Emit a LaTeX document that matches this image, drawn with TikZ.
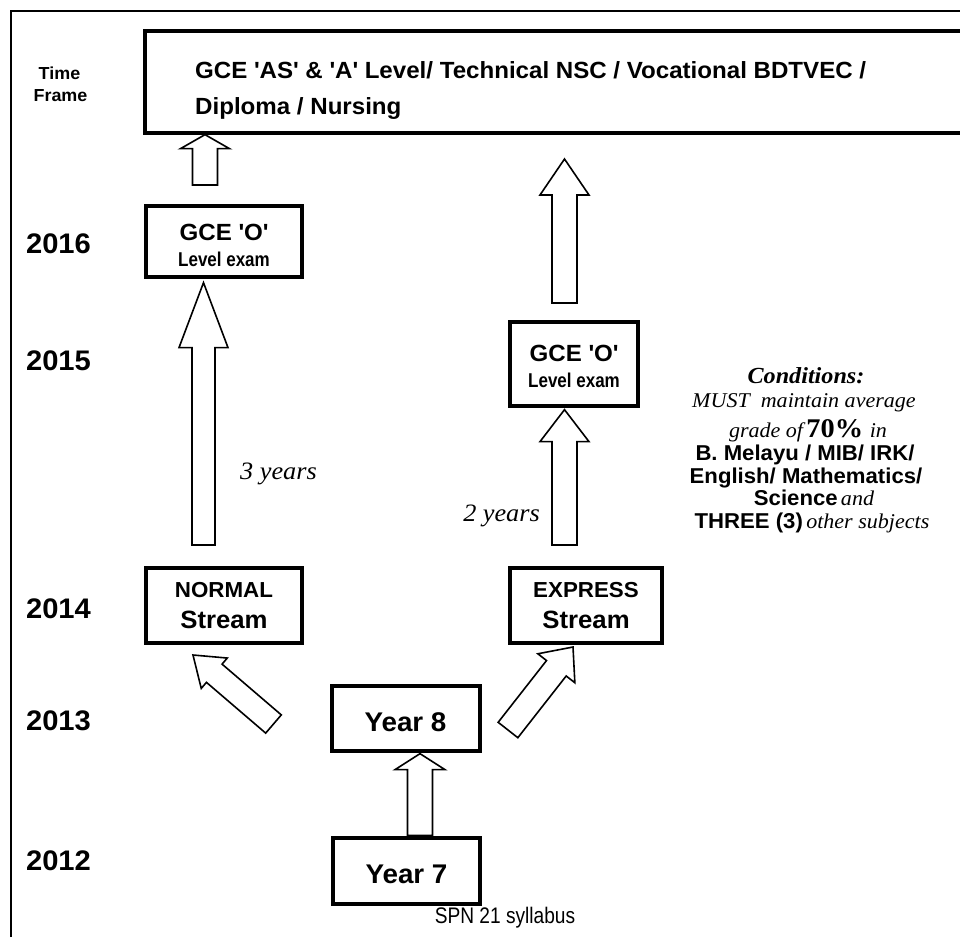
\documentclass[tikz,border=0pt]{standalone}
\usepackage{fontspec}
\usetikzlibrary{calc}
\newfontfamily\wsf{Liberation Sans}[FakeStretch=1.03]
\newfontfamily\nsf{Liberation Sans}[FakeStretch=0.85]
\newfontfamily\wrm{Liberation Serif}[FakeStretch=1.05]
\newcommand\sq{\textquotesingle}
\newcommand\fs[1]{\fontsize{#1}{#1}\selectfont}
% block arrow: #1 tail, #2 tip, #3 shaft half width, #4 head half width, #5 head length
\newcommand\blockarrow[5]{%
  \coordinate (ba-c) at ($(#2)!#5!(#1)$);
  \draw[blk] ($(#1)!#3!90:(#2)$) -- ($(ba-c)!#3!90:(#2)$) -- ($(ba-c)!#4!90:(#2)$) -- (#2)
    -- ($(ba-c)!#4!-90:(#2)$) -- ($(ba-c)!#3!-90:(#2)$) -- ($(#1)!#3!-90:(#2)$) -- cycle;}
\begin{document}
\begin{tikzpicture}[x=1pt,y=-1pt,
  boxn/.style={draw, line width=3.3pt, inner sep=0pt, fill=white},
  blk/.style={draw, fill=white, line width=1.6pt, line join=miter},
  sfb/.style={inner sep=0pt, anchor=base, font=\wsf\bfseries\fs{#1}},
  nfb/.style={inner sep=0pt, anchor=base, font=\nsf\bfseries\fs{#1}},
  yr/.style={inner sep=0pt, anchor=base, font=\wsf\bfseries\fs{28.3}},
  itl/.style={inner sep=0pt, anchor=base, font=\wrm\itshape\fs{#1}}]
\useasboundingbox (0,0) rectangle (960,937);
\clip (0,0) rectangle (960,937);
% frame
\draw[line width=2.5pt] (11,937) -- (11,11) -- (960,11);
% time frame
\node[sfb=17.4] (tf1) at (59.5,79) {Time};
\node[sfb=17.4] (tf2) at (60.5,101) {Frame};
% years
\node[yr] (y2016) at (58.5,253) {2016};
\node[yr] (y2015) at (58.5,370) {2015};
\node[yr] (y2014) at (58.5,618) {2014};
\node[yr] (y2013) at (58.5,730) {2013};
\node[yr] (y2012) at (58.5,870) {2012};
% top box
\node[boxn, minimum width=830pt, minimum height=102pt] (top) at (560,82) {};
\node[sfb=23.4, anchor=base west] (topl1) at (195,78) {GCE \sq AS\sq\ \& \sq A\sq\ Level/ Technical NSC / Vocational BDTVEC /};
\node[sfb=23.4, anchor=base west] (topl2) at (195,114) {Diploma / Nursing};
% left GCE O
\node[boxn, minimum width=156pt, minimum height=71pt] (gl) at (224,241.5) {};
\node[sfb=23.4] (gl1) at (224,240) {GCE \sq O\sq};
\node[nfb=20] (gl2) at (224,266) {Level exam};
% right GCE O
\node[boxn, minimum width=128pt, minimum height=84pt] (gr) at (574,364) {};
\node[sfb=23.4] (gr1) at (574,361) {GCE \sq O\sq};
\node[nfb=20] (gr2) at (574,387) {Level exam};
% NORMAL
\node[boxn, minimum width=156pt, minimum height=75pt] (nrm) at (224,605.5) {};
\node[sfb=21.7] (nrm1) at (224,597) {NORMAL};
\node[sfb=25] (nrm2) at (224,628.5) {Stream};
% EXPRESS
\node[boxn, minimum width=152pt, minimum height=75pt] (exp) at (586,605.5) {};
\node[sfb=21.7] (exp1) at (586,597) {EXPRESS};
\node[sfb=25] (exp2) at (586,628.5) {Stream};
% Year 8 / Year 7
\node[boxn, minimum width=148pt, minimum height=65pt] (y8) at (406,718.5) {};
\node[sfb=27] (y8t) at (405.5,731) {Year 8};
\node[boxn, minimum width=147pt, minimum height=66pt] (y7) at (406.5,871) {};
\node[sfb=27] (y7t) at (406.5,883) {Year 7};
\node[inner sep=0pt, anchor=base, font=\nsf\fs{22.5}] (spn) at (505,923) {SPN 21 syllabus};
% durations
\node[itl=25, anchor=base west] (d3) at (240,479) {3 years};
\node[itl=25, anchor=base east] (d2) at (540,521) {2 years};
% conditions
\node[inner sep=0pt, anchor=base, font=\wrm\bfseries\itshape\fs{23}] (c1) at (806,383) {Conditions:};
\node[itl=21] (c2) at (804,407) {MUST\ \ maintain average};
\node[inner sep=0pt, anchor=base] (c3) at (808,437) {{\wrm\itshape\fs{21}grade of} {\wrm\bfseries\fs{27}70\%}\ \ {\wrm\itshape\fs{21}in}};
\node[sfb=21.5] (c4) at (805,460) {B. Melayu / MIB/ IRK/};
\node[sfb=21.5] (c5) at (806,483) {English/ Mathematics/};
\node[inner sep=0pt, anchor=base] (c6) at (814,505) {{\wsf\bfseries\fs{21.5}Science} {\wrm\itshape\fs{21}and}};
\node[inner sep=0pt, anchor=base] (c7) at (812,528) {{\wsf\bfseries\fs{21.5}THREE (3)} {\wrm\itshape\fs{21}other subjects}};
% arrows
\coordinate (a1s) at (205,185);   \coordinate (a1e) at (top.south -| a1s);
\coordinate (a2s) at (203.5,545); \coordinate (a2e) at ($(gl.south -| a2s)+(0,4)$);
\coordinate (a3s) at (564.5,303); \coordinate (a3e) at (564.5,159);
\coordinate (a4s) at (564.5,545); \coordinate (a4e) at ($(gr.south -| a4s)+(0,2)$);
\coordinate (a5s) at (273.5,724); \coordinate (a5e) at (193,655);
\coordinate (a6s) at (508,730);   \coordinate (a6e) at (573,647);
\coordinate (a7s) at ($(y7.north -| 420,0)+(0,-1)$); \coordinate (a7e) at ($(y8.south -| 420,0)+(0,1)$);
\blockarrow{a1s}{a1e}{12.5pt}{24.5pt}{14pt}
\blockarrow{a2s}{a2e}{11.5pt}{24.5pt}{65pt}
\blockarrow{a3s}{a3e}{12.5pt}{24.5pt}{36pt}
\blockarrow{a4s}{a4e}{12.5pt}{24.5pt}{32pt}
\blockarrow{a5s}{a5e}{12pt}{20pt}{28pt}
\blockarrow{a6s}{a6e}{12.5pt}{23.5pt}{27pt}
\blockarrow{a7s}{a7e}{12.5pt}{25pt}{16pt}
\end{tikzpicture}
\end{document}
